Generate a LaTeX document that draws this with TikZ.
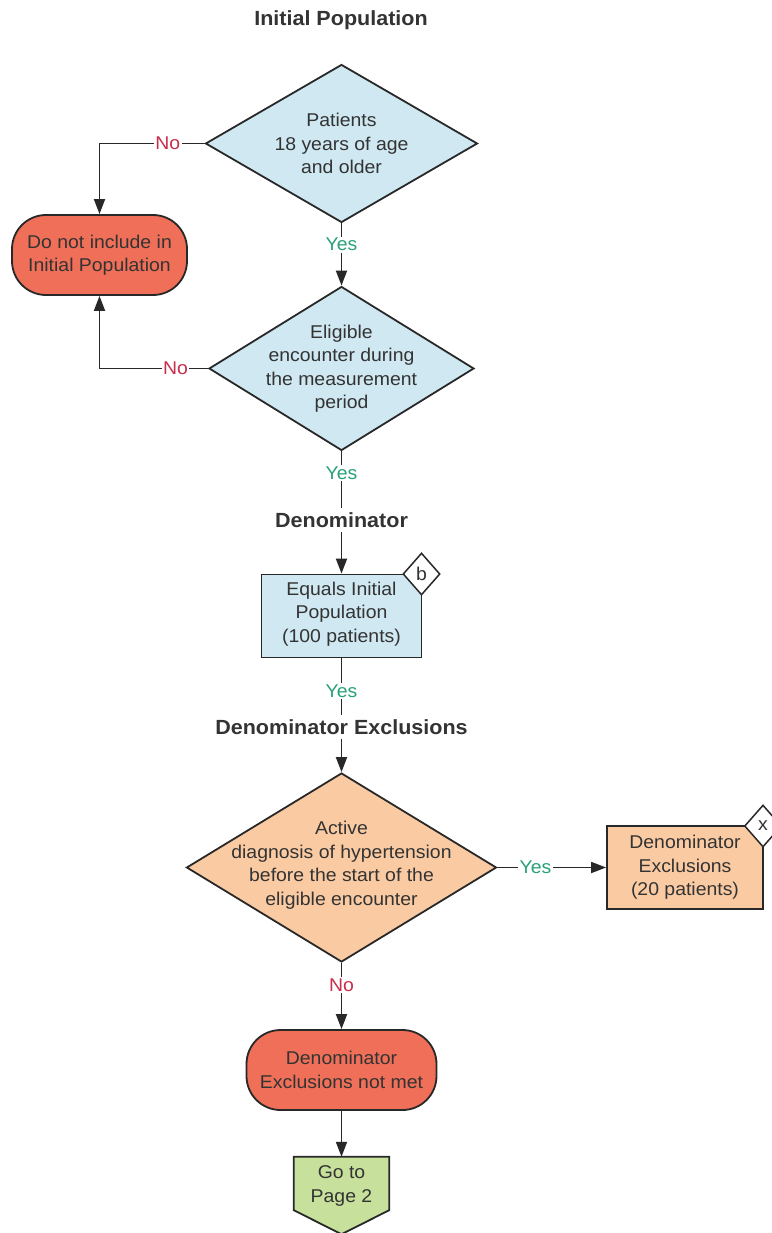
\documentclass[tikz,border=0pt]{standalone}
\usepackage{fontspec}
\setmainfont[FakeStretch=1.05]{Liberation Sans}
\usetikzlibrary{shapes.geometric,arrows.meta,calc}
\definecolor{textgray}{RGB}{51,51,51}
\definecolor{linegray}{RGB}{40,40,40}
\definecolor{diablue}{RGB}{207,232,241}
\definecolor{termred}{RGB}{239,111,88}
\definecolor{peach}{RGB}{250,203,163}
\definecolor{gogreen}{RGB}{199,225,156}
\definecolor{yesgreen}{RGB}{40,160,120}
\definecolor{nored}{RGB}{200,45,75}
\begin{document}
\begin{tikzpicture}[x=1pt,y=-1pt,
  txt/.style={font=\fontsize{18.5}{23.5}\selectfont, text=textgray, align=center},
  ttl/.style={font=\bfseries\fontsize{20.5}{24}\selectfont, text=textgray, inner sep=4pt},
  dia/.style={diamond, draw=linegray, line width=1.8pt, inner sep=0pt},
  proc/.style={rectangle, draw=linegray, line width=1.8pt, inner sep=0pt},
  term/.style={rectangle, rounded corners=34pt, draw=linegray, line width=1.8pt, fill=termred, inner sep=0pt},
  tagd/.style={diamond, draw=linegray, line width=1.5pt, fill=white, minimum width=37pt, minimum height=42pt, inner sep=0pt, txt},
  conn/.style={draw=linegray, line width=1.8pt},
  arr/.style={conn, -{Triangle[length=15pt,width=11pt]}},
  yeslbl/.style={txt, text=yesgreen, fill=white, inner sep=1.5pt},
  nolbl/.style={txt, text=nored, fill=white, inner sep=1.5pt}]
\useasboundingbox (0,0) rectangle (771,1233);

% headings
\node[ttl] (hinit) at (341,20) {Initial Population};
\node[ttl] (hden) at (341.5,520) {Denominator};
\node[ttl] (hexc) at (341.5,727) {Denominator Exclusions};

% decision 1
\node[dia, fill=diablue, minimum width=272pt, minimum height=158pt] (d1) at (341.5,143.5) {};
\node[txt] (d1t) at (d1) {Patients\\18 years of age\\and older};

% terminal 1
\node[term, minimum width=175pt, minimum height=80pt] (r1) at (99.5,255) {};
\node[txt] (r1t) at (r1) {Do not include in\\Initial Population};

% decision 2
\node[dia, fill=diablue, minimum width=265pt, minimum height=164pt] (d2) at (341.5,368.5) {};
\node[txt] (d2t) at (d2) {Eligible\\encounter during\\the measurement\\period};

% denominator box
\node[proc, fill=diablue, minimum width=160pt, minimum height=83pt] (b1) at (341.5,616) {};
\node[txt] (b1t) at (341.5,614) {Equals Initial\\Population\\(100 patients)};
\node[tagd] (tagb) at (421.5,574) {b};

% decision 3
\node[dia, fill=peach, minimum width=310pt, minimum height=189pt] (d3) at (341.5,867.5) {};
\node[txt] (d3t) at (341.5,865) {Active\\diagnosis of hypertension\\before the start of the\\eligible encounter};

% exclusions box
\node[proc, fill=peach, minimum width=156pt, minimum height=83pt] (b2) at (685,867.5) {};
\node[txt] (b2t) at (b2) {Denominator\\Exclusions\\(20 patients)};
\node[tagd] (tagx) at (763,826) {x};

% terminal 2
\node[term, minimum width=190pt, minimum height=80pt] (r2) at (341.5,1070) {};
\node[txt] (r2t) at (r2) {Denominator\\Exclusions not met};

% off-page connector
\node[minimum width=95pt, minimum height=53pt, inner sep=0pt] (go) at (341.5,1183.5) {};
\draw[linegray, line width=1.8pt, fill=gogreen] (go.north west) -- (go.north east) -- (go.south east) -- ($(go.south)+(0,24)$) -- (go.south west) -- cycle;
\node[txt] (got) at (341.5,1186) {Go to\\Page 2};

% connectors
\draw[arr] (d1.west) -| node[nolbl, pos=0.175]{No} (r1.north);
\draw[arr] (d1.south) -- node[yeslbl, pos=0.34]{Yes} (d2.north);
\draw[arr] (d2.west) -| node[nolbl, pos=0.15]{No} (r1.south);
\draw[conn] (d2.south) -- node[yeslbl, pos=0.38]{Yes} (hden.north);
\draw[arr] (hden.south) -- (b1.north);
\draw[conn] (b1.south) -- node[yeslbl, pos=0.58]{Yes} (hexc.north);
\draw[arr] (hexc.south) -- (d3.north);
\draw[arr] (d3.east) -- node[yeslbl, pos=0.35]{Yes} (b2.west);
\draw[arr] (d3.south) -- node[nolbl, pos=0.34]{No} (r2.north);
\draw[arr] (r2.south) -- (go.north);
\end{tikzpicture}
\end{document}
